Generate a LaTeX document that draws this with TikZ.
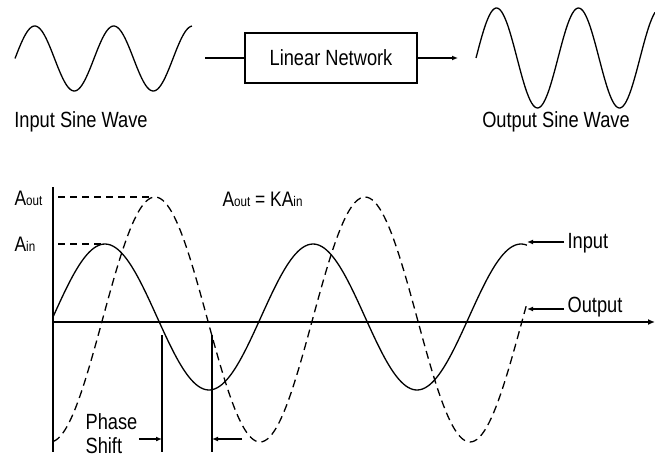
\documentclass[tikz,border=0pt]{standalone}
\usepackage{fontspec}
\setmainfont[FakeStretch=0.83]{Liberation Sans}
\usetikzlibrary{arrows.meta}

\tikzset{
  wave/.style={line width=1.3pt},
  outwave/.style={line width=1.3pt, dash pattern=on 8pt off 5pt},
  guide/.style={line width=1.2pt, dash pattern=on 7pt off 5pt},
  arr/.style={line width=1.2pt, -{Latex[length=6pt,width=5pt]}},
  amp/.style={anchor=base west, inner sep=0pt, font=\fontsize{21}{24}\selectfont},
}
\newcommand{\sub}[1]{{\fontsize{14}{16}\selectfont #1}}

\begin{document}
\begin{tikzpicture}[x=1pt, y=-1pt, line width=1.2pt, font=\fontsize{22}{25}\selectfont]
  \useasboundingbox (0,0) rectangle (655,460);
  % top row
  \draw[wave] plot[domain=15:192, samples=120, smooth] (\x,{58.5-32.5*sin((\x-15)/79*360)});
  \node (inwave) at (81,122) {Input Sine Wave};
  \coordinate (netin) at (205,58);
  \node[draw, minimum width=172pt, minimum height=50pt] (net) at (331,58) {Linear Network};
  \coordinate (netout) at (458,58);
  \draw (netin) -- (net.west);
  \draw[arr] (net.east) -- (netout);
  \draw[wave] plot[domain=476:655, samples=120, smooth] (\x,{58-50*sin((\x-476)/82*360)});
  \node (outwave) at (556,122) {Output Sine Wave};
  % axes
  \coordinate (o) at (53,322);
  \coordinate (ytop) at (53,187);
  \coordinate (ybot) at (53,452);
  \coordinate (xend) at (655,322);
  \draw[line width=1.5pt] (ytop) -- (ybot);
  \draw[line width=1.8pt, -{Latex[length=7pt,width=6pt]}] (o) -- (xend);
  % waves
  \draw[wave] plot[domain=53:527, samples=200, smooth] (\x,{317-73*sin((\x-53)/208*360)});
  \draw[outwave] plot[domain=53:527, samples=200, smooth] (\x,{319.5-122.5*sin((\x-102.5)/210*360)});
  % amplitudes
  \node[amp] (aout) at (14,205) {A\sub{out}};
  \node[amp] (ain) at (14,251) {A\sub{in}};
  \node[amp] (gain) at (222,206) {A\sub{out} = KA\sub{in}};
  \coordinate (aoutg) at (58,197);
  \coordinate (outpk) at (152,197);
  \coordinate (aing) at (58,244);
  \coordinate (inpk) at (102,244);
  \draw[guide] (aoutg) -- (outpk);
  \draw[guide] (aing) -- (inpk);
  % phase shift
  \coordinate (ps1top) at (162,335);
  \coordinate (ps1bot) at (162,452);
  \coordinate (ps2top) at (212,335);
  \coordinate (ps2bot) at (212,452);
  \draw (ps1top) -- (ps1bot);
  \draw (ps2top) -- (ps2bot);
  \node[align=left, anchor=west, inner sep=1pt, font=\fontsize{22}{24}\selectfont] (shift) at (84,434) {Phase\\Shift};
  \coordinate (ps1mid) at (162,439);
  \coordinate (ps2mid) at (212,439);
  \coordinate (psfrom) at (242,439);
  \draw[arr] (shift.east |- ps1mid) -- (ps1mid);
  \draw[arr] (psfrom) -- (ps2mid);
  % labels
  \coordinate (inend) at (527,242);
  \node[anchor=west, inner sep=3pt] (inlbl) at (564,243) {Input};
  \draw[arr] (inlbl.west |- inend) -- (inend);
  \coordinate (outend) at (527,309);
  \node[anchor=west, inner sep=3pt] (outlbl) at (564,307) {Output};
  \draw[arr] (outlbl.west |- outend) -- (outend);
\end{tikzpicture}
\end{document}
